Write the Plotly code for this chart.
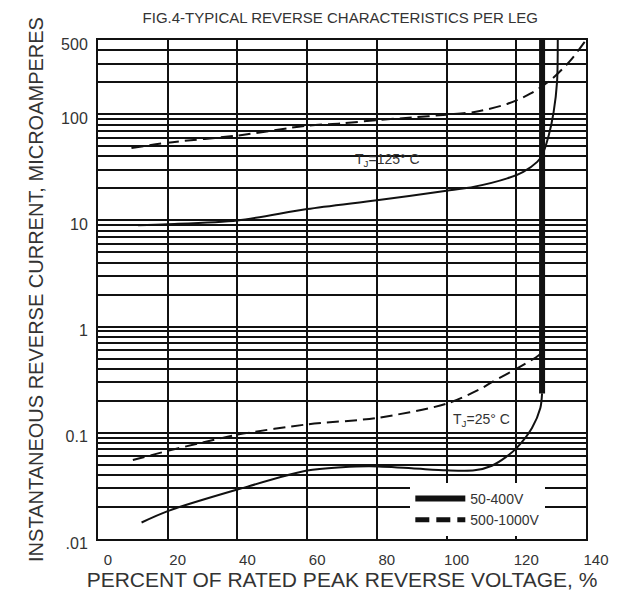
import numpy as np
import plotly.graph_objects as go

# ---- data ----
# TJ = 125 C, 500-1000V (dashed)
x_125_dashed = [9.6, 20, 40, 60, 70, 80, 90, 100, 108, 117.4, 124, 130, 135.5, 140]
y_125_dashed = [48, 54, 63, 78, 82, 88, 93, 99, 105, 125, 156, 212, 320, 500]

# TJ = 125 C, 50-400V (solid)
x_125_solid = [11.5, 20, 40, 60, 80, 100, 108, 117.4, 122, 126, 127.4, 129.3, 130.7, 131.7, 131.9]
y_125_solid = [9.0, 9.2, 10, 12.8, 15.5, 19, 20.8, 24.9, 28.7, 35.6, 41, 63, 104, 203, 500]

# TJ = 25 C, 500-1000V (dashed)
x_25_dashed = [10, 20, 30, 40, 60, 80, 100, 110, 113, 120, 126.4, 127.3]
y_25_dashed = [0.0554, 0.0676, 0.081, 0.096, 0.12, 0.138, 0.188, 0.262, 0.30, 0.40, 0.535, 0.575]

# TJ = 25 C, 50-400V (solid)
x_25_solid = [12.5, 20, 40, 60, 70, 78, 90, 100, 108, 113, 117, 120.2, 124.5, 126.9, 127.4]
y_25_solid = [0.0143, 0.0183, 0.0292, 0.0441, 0.0473, 0.0483, 0.0463, 0.0443, 0.0443, 0.049, 0.059, 0.0726, 0.111, 0.171, 0.235]

# breakdown (thick vertical) of the 50-400V curve
x_breakdown = [127.4, 127.4]
y_breakdown = [0.235, 500]

# axis ticks
x_ticks = [0, 20, 40, 60, 80, 100, 120, 140]
y_ticks = [0.01, 0.1, 1, 10, 100, 500]
y_tick_text = [".01", "0.1", "1", "10", "100", "500"]
y_minor = ([k * 0.01 for k in range(2, 10)] + [k * 0.1 for k in range(2, 10)]
           + [k * 1 for k in range(2, 10)] + [k * 10 for k in range(2, 10)]
           + [200, 300, 400])

label_125 = ("T<sub>J</sub>=125° C", 83, 37)
label_25 = ("T<sub>J</sub>=25° C", 110, 0.133)

LINE = "#111111"
TEXT = "#333333"
FONT = "Liberation Sans, Arial, sans-serif"

fig = go.Figure()

def curve(x, y, dash, width=2, name=None, show=False):
    fig.add_trace(go.Scatter(
        x=x, y=y, mode="lines", name=name, showlegend=show,
        line=dict(color=LINE, width=width, dash=dash, shape="spline", smoothing=0.8),
        hoverinfo="skip",
    ))

curve(x_125_dashed, y_125_dashed, "12px,6px")
curve(x_125_solid, y_125_solid, "solid")
curve(x_25_dashed, y_25_dashed, "12px,6px")
curve(x_25_solid, y_25_solid, "solid")
fig.add_trace(go.Scatter(
    x=x_breakdown, y=y_breakdown, mode="lines", name="50-400V", showlegend=True,
    line=dict(color=LINE, width=6), hoverinfo="skip",
))
# legend key for the dashed series
fig.add_trace(go.Scatter(
    x=[None], y=[None], mode="lines", name="500-1000V", showlegend=True,
    line=dict(color=LINE, width=5, dash="14px,7px"), hoverinfo="skip",
))

for text, xv, yv in (label_125, label_25):
    fig.add_annotation(x=xv, y=np.log10(yv), text=text, showarrow=False,
                       font=dict(family=FONT, size=14, color=TEXT))

# the page body adds an 8px margin, so the figure is drawn 8px smaller
fig.update_layout(
    width=621, height=590, autosize=False,
    margin=dict(l=90, r=43, t=32, b=59),
    paper_bgcolor="white", plot_bgcolor="white",
    font=dict(family=FONT, color=TEXT),
    title=dict(text="FIG.4-TYPICAL REVERSE CHARACTERISTICS PER LEG",
               x=0.535, xanchor="center", y=0.983, yanchor="middle",
               font=dict(family=FONT, size=15, color=TEXT)),
    showlegend=True,
    legend=dict(x=0.64, xanchor="left", y=0.006, yanchor="bottom",
                bgcolor="white", borderwidth=0,
                font=dict(family=FONT, size=14, color=TEXT),
                itemwidth=50, tracegroupgap=0, traceorder="normal"),
)

fig.update_xaxes(
    range=[0, 140], tickvals=x_ticks, ticks="", showgrid=True,
    gridcolor=LINE, gridwidth=1.5, zeroline=False,
    showline=True, linecolor=LINE, linewidth=2, mirror=True,
    tickfont=dict(family=FONT, size=15, color=TEXT),
    ticklabelshift=10, ticklabelstandoff=6,
    title=dict(text="PERCENT OF RATED PEAK REVERSE VOLTAGE, %",
               font=dict(family=FONT, size=21, color=TEXT), standoff=4),
)
fig.update_yaxes(
    type="log", range=[-2, np.log10(500)],
    tickvals=y_ticks, ticktext=y_tick_text, ticks="", showgrid=True,
    gridcolor=LINE, gridwidth=1.5, zeroline=False,
    showline=True, linecolor=LINE, linewidth=2, mirror=True,
    tickfont=dict(family=FONT, size=16, color=TEXT),
    ticklabelshift=4, ticklabelstandoff=5,
    minor=dict(tickvals=y_minor, showgrid=True, gridcolor=LINE, gridwidth=1.5, ticks=""),
    title=dict(text="INSTANTANEOUS REVERSE CURRENT, MICROAMPERES",
               font=dict(family=FONT, size=20, color=TEXT), standoff=12),
)

fig.write_html("out.html")
